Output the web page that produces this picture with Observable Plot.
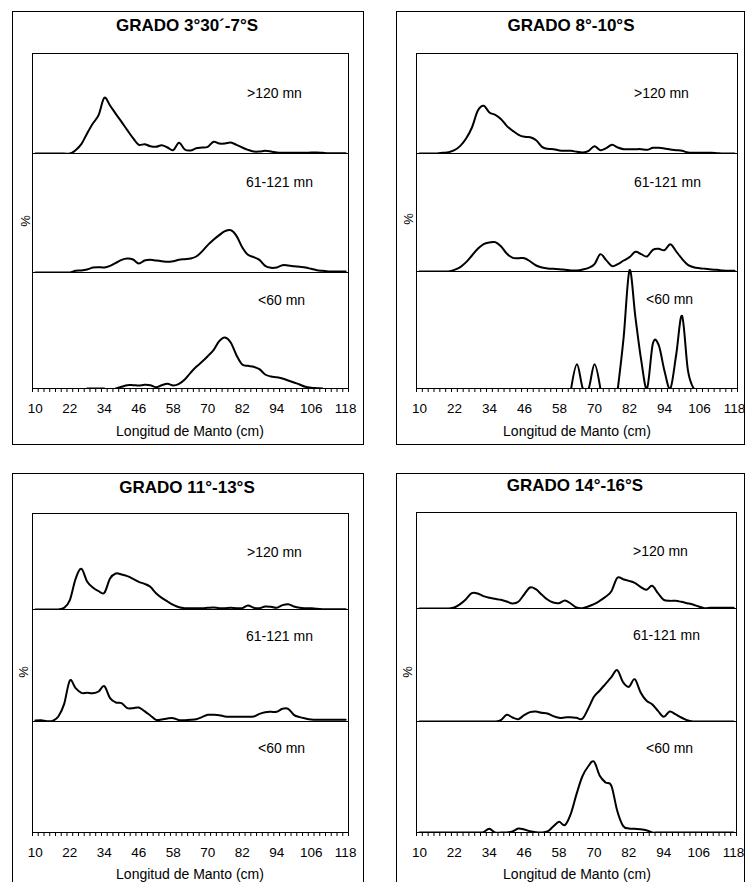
<!DOCTYPE html>
<html>
<head>
<meta charset="utf-8">
<script src="https://cdn.jsdelivr.net/npm/d3@7"></script>
<script src="https://cdn.jsdelivr.net/npm/@observablehq/plot@0.6"></script>
<style>
  html, body { margin: 0; padding: 0; background: #fff; }
  #page { position: relative; width: 746px; height: 882px; overflow: hidden; background: #fff; }
</style>
</head>
<body>
<div id="page"></div>
<script>
// Longitud de manto: clases de 2 cm
const categories = [
  10, 12, 14, 16, 18, 20, 22, 24, 26, 28,
  30, 32, 34, 36, 38, 40, 42, 44, 46, 48,
  50, 52, 54, 56, 58, 60, 62, 64, 66, 68,
  70, 72, 74, 76, 78, 80, 82, 84, 86, 88,
  90, 92, 94, 96, 98, 100, 102, 104, 106, 108,
  110, 112, 114, 116, 118
];
const tickLabels = [10, 22, 34, 46, 58, 70, 82, 94, 106, 118];
const zones = [">120 mn", "61-121 mn", "<60 mn"];
const titles = ["GRADO 3°30´-7°S", "GRADO 8°-10°S", "GRADO 11°-13°S", "GRADO 14°-16°S"];

// Frecuencia (%) por clase de talla; null = sin registro
// Grado 3°30´-7°S
const g1Far = [
  0, 0, 0, 0, 0, 0, 0, 1.0, 2.8, 6.0,
  9.0, 11.5, 16.7, 14.4, 11.9, 9.5, 7.0, 4.6, 2.6, 2.8,
  2.2, 2.0, 2.5, 1.8, 1.0, 3.2, 1.2, 0.9, 1.6, 1.8,
  2.0, 3.5, 3.0, 3.0, 3.3, 2.6, 1.8, 1.1, 0.6, 0.6,
  0.8, 0.6, 0.3, 0.2, 0.2, 0.2, 0.2, 0.2, 0.3, 0.3,
  0.2, 0.1, 0.1, 0.1, 0.1
];
const g1Mid = [
  0, 0, 0, 0, 0, 0, 0, 0.5, 0.6, 0.9,
  1.5, 1.6, 1.5, 2.0, 2.9, 3.8, 4.2, 3.9, 2.7, 3.6,
  3.8, 3.6, 3.4, 3.2, 3.4, 3.8, 4.0, 4.2, 4.8, 6.3,
  8.2, 9.8, 11.2, 12.4, 12.7, 11.0, 7.6, 5.3, 4.6, 3.8,
  2.0, 1.4, 1.5, 2.2, 2.1, 1.9, 1.7, 1.5, 1.1, 0.7,
  0.5, 0.3, 0.3, 0.3, 0.3
];
const g1Near = [
  null, null, null, null, null, null, null, null, null, 0,
  0, 0, 0, null, 0, 0.5, 1.0, 1.0, 0.9, 1.1,
  1.0, 0.4, 1.0, 1.4, 0.9, 1.4, 2.7, 4.7, 6.5, 8.0,
  9.7, 11.5, 14.2, 15.3, 13.8, 10.0, 7.2, 6.8, 6.5, 5.8,
  4.2, 3.6, 3.4, 3.0, 2.4, 1.8, 1.2, 0.5, 0.2, 0.1,
  0, null, null, null, null
];

// Grado 8°-10°S
const g2Far = [
  0, 0, 0, 0, 0.2, 0.4, 1.0, 2.3, 4.5, 7.8,
  12.8, 14.3, 12.3, 11.6, 10.3, 8.2, 6.8, 5.6, 5.0, 4.9,
  4.0, 2.0, 1.4, 1.3, 0.9, 0.8, 0.8, 0.5, 0.3, 0.8,
  2.2, 1.0, 1.6, 2.6, 1.8, 1.3, 1.3, 1.3, 1.3, 1.1,
  1.7, 1.7, 1.5, 1.2, 1.0, 0.8, 0.3, 0.2, 0.2, 0.2,
  0.2, 0.1, 0, 0, 0
];
const g2Mid = [
  0, 0, 0, 0, 0, 0, 0.5, 1.3, 2.8, 4.8,
  6.8, 8.2, 8.7, 8.8, 7.5, 5.3, 4.1, 4.0, 4.0, 3.0,
  1.8, 1.2, 0.9, 0.8, 0.7, 0.5, 0.3, 0.3, 0.6, 1.1,
  2.2, 5.2, 3.4, 1.6, 2.2, 3.3, 4.3, 5.9, 5.2, 4.5,
  6.5, 6.8, 6.4, 8.2, 6.0, 3.8, 2.0, 1.3, 1.0, 0.8,
  0.6, 0.5, 0.3, 0.2, 0.2
];
const g2Near = [
  null, null, null, null, null, null, null, null, null, null,
  null, null, null, null, null, null, null, null, null, null,
  null, null, null, null, null, null, 0, 7.3, 0, 0,
  7.3, 0, null, null, 0, 15.5, 35.5, 21.5, 8.5, 0,
  13.5, 13.0, 5.2, 0, 10.2, 21.8, 5.5, 0, null, null,
  null, null, null, null, null
];

// Grado 11°-13°S
const g3Far = [
  0, 0, 0, 0, 0, 0.5, 2.8, 9.2, 12.2, 8.4,
  6.6, 5.5, 5.0, 9.3, 10.8, 10.5, 10.0, 9.2, 8.3, 7.7,
  6.8, 4.9, 3.5, 2.4, 1.4, 0.7, 0.4, 0.4, 0.4, 0.4,
  0.5, 0.6, 0.4, 0.4, 0.5, 0.4, 0.4, 1.2, 0.5, 0.4,
  0.9, 0.8, 0.5, 1.3, 1.6, 0.9, 0.5, 0.4, 0.4, 0.2,
  0.1, 0.1, 0.1, 0.1, 0.1
];
const g3Mid = [
  0.3, 0.4, 0.1, 0.2, 1.5, 5.2, 12.3, 10.0, 8.6, 8.6,
  8.5, 9.0, 10.6, 7.0, 5.7, 5.5, 4.0, 4.0, 4.2, 3.1,
  1.8, 0.5, 0.6, 0.9, 1.0, 0.4, 0.4, 0.5, 0.7, 1.3,
  2.0, 2.0, 1.9, 1.5, 1.4, 1.4, 1.4, 1.4, 1.5, 2.3,
  2.8, 2.9, 2.9, 3.8, 3.8, 2.0, 1.3, 0.9, 0.6, 0.5,
  0.5, 0.5, 0.5, 0.5, 0.5
];
const g3Near = [];

// Grado 14°-16°S
const g4Far = [
  0, 0, 0, 0, 0, 0, 0.3, 1.3, 2.8, 4.6,
  4.5, 3.7, 3.2, 2.9, 2.6, 2.1, 1.5, 2.0, 4.2, 6.3,
  5.8, 4.2, 2.7, 1.8, 1.6, 2.4, 1.5, 0.3, 0.1, 0.6,
  1.3, 2.3, 3.5, 5.2, 9.2, 8.8, 8.3, 7.7, 6.5, 5.6,
  6.8, 4.6, 2.6, 2.3, 2.3, 2.0, 1.6, 1.2, 0.6, 0.1,
  0.2, 0.2, 0.2, 0.2, 0.2
];
const g4Mid = [
  0, 0, 0, 0, 0, 0, 0, 0, 0, 0,
  0, 0, 0, 0, 0.4, 2.0, 1.2, 0.7, 1.9, 2.8,
  3.0, 2.6, 2.4, 1.6, 1.1, 1.2, 1.3, 1.1, 0.8, 3.8,
  7.4, 9.3, 11.3, 13.3, 15.4, 11.8, 10.4, 12.7, 8.8, 6.3,
  5.2, 3.2, 1.4, 3.0, 2.2, 1.2, 0.4, 0, 0, 0,
  0, 0, 0, 0, 0
];
const g4Near = [
  0, 0, 0, 0, 0, 0, 0, 0, 0, 0,
  0, 0.1, 1.1, 0, 0, 0, 0.3, 1.2, 0.9, 0.4,
  0.1, 0, 0.3, 1.8, 3.2, 2.2, 5.5, 11.5, 16.8, 19.8,
  21.3, 17.0, 15.0, 14.0, 6.5, 2.0, 1.2, 1.1, 1.0, 0.7,
  0, 0, 0, 0, 0, 0, 0, 0, 0, 0,
  0, 0, 0, 0, 0
];

const series = [
  [g1Far, g1Mid, g1Near],
  [g2Far, g2Mid, g2Near],
  [g3Far, g3Mid, g3Near],
  [g4Far, g4Mid, g4Near]
];

// Page geometry of each panel: outer box, plot area, strip baselines, text anchors
const layout = [
  {box: [12.5, 11.5, 351, 433], inner: [32, 348, 53], bases: [153, 272, 388],
   title: [187, 31], zonesAt: [[247, 98], [246, 187], [258, 305]], pct: [25, 221], axisTitle: [190, 436]},
  {box: [396.5, 11.5, 348, 433], inner: [416, 737, 53], bases: [153, 271, 388],
   title: [571, 31], zonesAt: [[634, 98], [634, 187], [646, 304]], pct: [408, 219], axisTitle: [577, 436]},
  {box: [12.5, 473.5, 351, 440], inner: [32, 348, 513], bases: [609, 721, 832],
   title: [187, 493], zonesAt: [[247, 557], [246, 641], [258, 753]], pct: [23, 672], axisTitle: [190, 879]},
  {box: [396.5, 473.5, 348, 440], inner: [416, 736, 512], bases: [608, 721, 832],
   title: [575, 491], zonesAt: [[633, 556], [633, 640], [646, 753]], pct: [407, 672], axisTitle: [577, 879]}
];

const FONT = 'Arial, "Liberation Sans", sans-serif';
const PCT_PER_PX = 0.3;   // vertical scale shared by every strip
const HEAD = 4;           // headroom above each strip so tall peaks are not cut
const AXIS_SPACE = 30;

// tick marks sit between the 2 cm classes
const tickEdges = categories.map(c => c - 1).concat(categories[categories.length - 1] + 1);

function strip(values, top, base, width, withAxis) {
  const h = base - top;
  const mb = withAxis ? AXIS_SPACE : 0;
  const rows = categories.map((c, i) => ({c, v: values[i] ?? null}));
  const marks = [
    Plot.ruleY([0], {stroke: "black", strokeWidth: 1}),
    Plot.line(rows, {x: "c", y: "v", curve: "cardinal", stroke: "black", strokeWidth: 2, clip: true})
  ];
  if (withAxis) {
    marks.push(Plot.axisX(tickEdges, {tickSize: 4, tickFormat: () => "", stroke: "black"}));
    marks.push(Plot.axisX(tickLabels, {tickSize: 0, tickPadding: 15, fontSize: 13.5, fill: "black"}));
  }
  return Plot.plot({
    width: width + 1,
    height: h + HEAD + mb,
    marginTop: 0, marginBottom: mb, marginLeft: 0, marginRight: 1,
    x: withAxis ? {domain: [9, 119], label: null} : {domain: [9, 119], axis: null, label: null},
    y: {domain: [0, (h + HEAD) * PCT_PER_PX], axis: null, label: null},
    style: {background: "transparent", fontFamily: FONT, overflow: "visible"},
    marks
  });
}

const page = document.getElementById("page");

layout.forEach((L, p) => {
  const [left, right, top] = L.inner;
  const width = right - left;
  let yTop = top;
  L.bases.forEach((base, k) => {
    const svg = strip(series[p][k], yTop, base, width, k === 2);
    svg.style.position = "absolute";
    svg.style.left = left + "px";
    svg.style.top = (yTop - HEAD) + "px";
    page.appendChild(svg);
    yTop = base;
  });
});

// Borders and text of the four panels
const overlay = d3.select(page).append("svg")
  .attr("width", 746).attr("height", 882)
  .style("position", "absolute").style("left", "0px").style("top", "0px")
  .style("pointer-events", "none")
  .attr("font-family", FONT);

layout.forEach((L, p) => {
  const g = overlay.append("g");
  const [left, right, top] = L.inner;
  g.append("rect")
    .attr("x", L.box[0]).attr("y", L.box[1]).attr("width", L.box[2]).attr("height", L.box[3])
    .attr("fill", "none").attr("stroke", "black").attr("stroke-width", 1);
  g.append("rect")
    .attr("x", left + 0.5).attr("y", top + 0.5)
    .attr("width", right - left).attr("height", L.bases[2] - top)
    .attr("fill", "none").attr("stroke", "black").attr("stroke-width", 1);
  g.append("text")
    .attr("x", L.title[0]).attr("y", L.title[1])
    .attr("text-anchor", "middle").attr("font-size", 17).attr("font-weight", "bold")
    .text(titles[p]);
  zones.forEach((z, k) => {
    g.append("text")
      .attr("x", L.zonesAt[k][0]).attr("y", L.zonesAt[k][1])
      .attr("font-size", 14)
      .text(z);
  });
  g.append("text")
    .attr("transform", `translate(${L.pct[0]},${L.pct[1]}) rotate(-90)`)
    .attr("text-anchor", "middle").attr("dominant-baseline", "central")
    .attr("font-size", 13)
    .text("%");
  g.append("text")
    .attr("x", L.axisTitle[0]).attr("y", L.axisTitle[1])
    .attr("text-anchor", "middle").attr("font-size", 14)
    .text("Longitud de Manto (cm)");
});
</script>
</body>
</html>
